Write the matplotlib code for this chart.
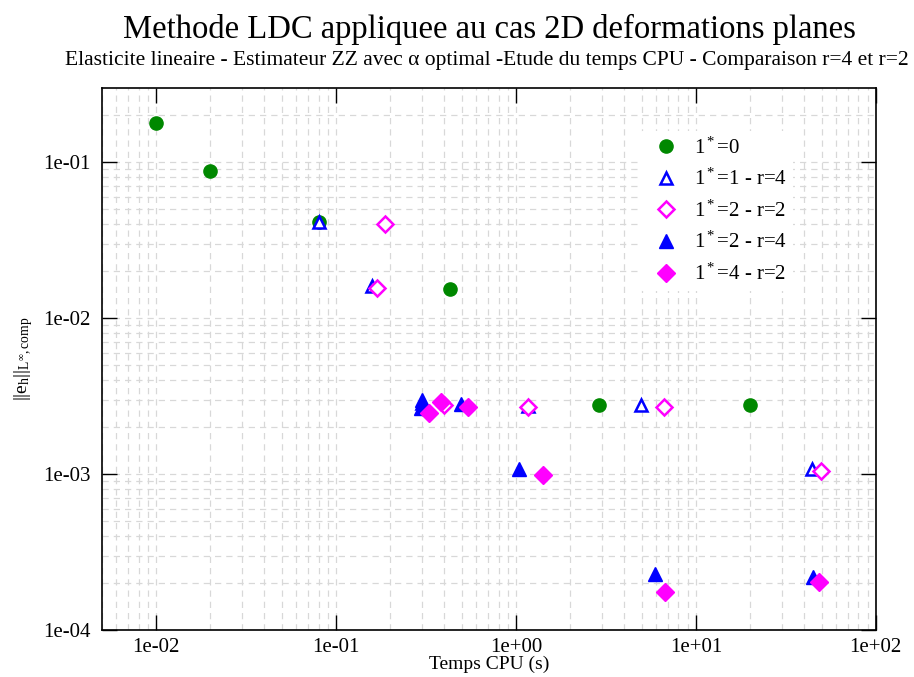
import matplotlib
matplotlib.use("Agg")
import matplotlib.pyplot as plt
from matplotlib.ticker import LogLocator, FuncFormatter, NullFormatter

plt.rcParams['font.family'] = ['Liberation Serif', 'DejaVu Serif']
plt.rcParams['mathtext.fontset'] = 'custom'
plt.rcParams['mathtext.rm'] = 'Liberation Serif'
plt.rcParams['mathtext.it'] = 'Liberation Serif:italic'

# ---- data (CPU time [s], error) ----
l0_x = [0.01, 0.020, 0.080, 0.43, 2.9, 20.0]
l0_y = [0.178, 0.087, 0.041, 0.0153, 0.00275, 0.00275]

l1r4_x = [0.080, 0.159, 0.30, 1.16, 4.97, 44.0]
l1r4_y = [0.041, 0.0160, 0.00285, 0.00273, 0.00275, 0.00107]

l2r2_x = [0.188, 0.169, 0.40, 1.16, 6.65, 49.9]
l2r2_y = [0.0398, 0.0155, 0.00275, 0.00270, 0.00268, 0.00104]

l2r4_x = [0.30, 0.295, 0.494, 1.04, 5.9, 45.0]
l2r4_y = [0.00296, 0.00265, 0.00282, 0.00107, 0.000228, 0.000220]

l4r2_x = [0.33, 0.385, 0.54, 1.41, 6.7, 48.6]
l4r2_y = [0.00247, 0.00288, 0.00269, 0.00098, 0.000175, 0.000204]

labels = ['1$^*$=0', '1$^*$=1 - r=4', '1$^*$=2 - r=2', '1$^*$=2 - r=4', '1$^*$=4 - r=2']

title = 'Methode LDC appliquee au cas 2D deformations planes'
subtitle = 'Elasticite lineaire - Estimateur ZZ avec \u03b1 optimal -Etude du temps CPU - Comparaison r=4 et r=2'
xlabel = 'Temps CPU (s)'
ylabel = '||e$_\\mathrm{h}$||$_{\\mathrm{L}^{\\infty}\\mathrm{,comp}}$'

fig = plt.figure(figsize=(9.14, 6.77), dpi=100)
ax = fig.add_axes([0.1116, 0.0694, 0.8466, 0.8006])

green = '#008800'
blue = '#0000ff'
mag = '#ff00ff'

ax.plot(l0_x, l0_y, 'o', color=green, ms=9.5, mec=green, label=labels[0], zorder=3)
ax.plot(l1r4_x, l1r4_y, '^', mfc='white', mec=blue, mew=1.8, ms=9, label=labels[1], zorder=3)
ax.plot(l2r2_x, l2r2_y, 'D', mfc='white', mec=mag, mew=1.8, ms=8.5, label=labels[2], zorder=3)
ax.plot(l2r4_x, l2r4_y, '^', color=blue, ms=10, label=labels[3], zorder=3)
ax.plot(l4r2_x, l4r2_y, 'D', color=mag, ms=9, label=labels[4], zorder=3)

ax.set_xscale('log')
ax.set_yscale('log')
ax.set_xlim(0.005, 100)
ax.set_ylim(1e-4, 0.298)

ax.xaxis.set_major_locator(LogLocator(base=10, numticks=10))
ax.yaxis.set_major_locator(LogLocator(base=10, numticks=10))
ax.xaxis.set_minor_locator(LogLocator(base=10, subs=range(2, 10), numticks=50))
ax.yaxis.set_minor_locator(LogLocator(base=10, subs=range(2, 10), numticks=50))
fmt = FuncFormatter(lambda v, p: f'{v:.0e}')
ax.xaxis.set_major_formatter(fmt)
ax.yaxis.set_major_formatter(fmt)
ax.xaxis.set_minor_formatter(NullFormatter())
ax.yaxis.set_minor_formatter(NullFormatter())

ax.tick_params(which='major', direction='in', length=11, width=1, top=True, right=True,
               labelsize=15)
ax.tick_params(axis='x', which='major', pad=6)
ax.tick_params(axis='y', which='major', pad=8)
ax.tick_params(which='minor', length=0)
ax.grid(True, which='both', color='#d8d8d8', linestyle=(0, (5, 4)), linewidth=0.9, zorder=0)
ax.set_axisbelow(True)
for s in ax.spines.values():
    s.set_linewidth(1.2)

ax.set_xlabel(xlabel, fontsize=14)
ax.xaxis.set_label_coords(0.5, -0.047)
ax.set_ylabel(ylabel, fontsize=14, labelpad=6)

fig.text(0.536, 0.956, title, ha='center', va='center', fontsize=23.5)
fig.text(0.533, 0.911, subtitle, ha='center', va='center', fontsize=15.5)

leg = ax.legend(loc='upper left', bbox_to_anchor=(0.68, 0.94), fontsize=15,
                frameon=True, facecolor='white', edgecolor='none', framealpha=1,
                handletextpad=0.35, labelspacing=0.5, borderpad=0.3, numpoints=1)
leg.get_frame().set_linewidth(0)

fig.savefig('out.png', dpi=100)
